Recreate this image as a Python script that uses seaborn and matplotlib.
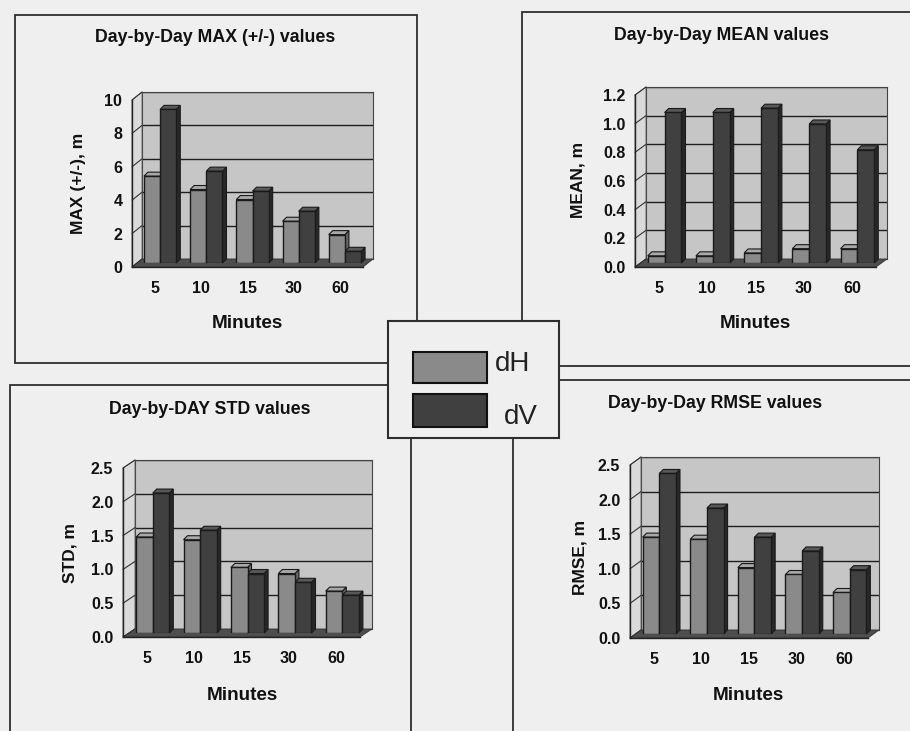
import matplotlib
matplotlib.use("Agg")
import matplotlib.pyplot as plt
import seaborn as sns
import pandas as pd
from matplotlib.patches import Rectangle, Polygon
from matplotlib.lines import Line2D

# ---------------- data ----------------
minutes = ["5", "10", "15", "30", "60"]
series = ["dH", "dV"]
max_dH = [5.2, 4.4, 3.8, 2.5, 1.7]
max_dV = [9.2, 5.5, 4.3, 3.1, 0.7]
mean_dH = [0.05, 0.05, 0.07, 0.10, 0.10]
mean_dV = [1.05, 1.05, 1.08, 0.97, 0.79]
std_dH = [1.42, 1.38, 0.97, 0.88, 0.62]
std_dV = [2.07, 1.52, 0.88, 0.75, 0.56]
rmse_dH = [1.40, 1.37, 0.96, 0.86, 0.60]
rmse_dV = [2.32, 1.82, 1.40, 1.20, 0.93]

# ---------------- style ----------------
W, H = 910, 731
sns.set_theme(style="white")
FAM = ["Liberation Sans", "DejaVu Sans"]
plt.rcParams["font.family"] = FAM

BG = "#efefef"
WALL = "#c6c6c6"
SIDE = "#dadada"
FLOOR = "#4e4e4e"
C_DH = "#8a8a8a"
C_DV = "#404040"
TOP = {C_DH: "#a8a8a8", C_DV: "#585858"}
SIDEC = {C_DH: "#666666", C_DV: "#282828"}
EDGE = "#1a1a1a"
TXT = "#111111"

fig = plt.figure(figsize=(W / 100, H / 100), dpi=100)
fig.patch.set_facecolor(BG)


def fx(x):
    return x / W


def fy(y):
    return 1 - y / H


def frect(l, t, r, b):
    return [fx(l), fy(b), (r - l) / W, (b - t) / H]


def box(l, t, r, b, lw=1.3, fc=None, z=-5):
    fig.add_artist(Rectangle((fx(l), fy(b)), (r - l) / W, (b - t) / H,
                             transform=fig.transFigure,
                             facecolor=fc if fc else "none",
                             edgecolor="#2e2e2e", lw=lw, zorder=z))


def fpoly(pts, fc, ec="none", lw=0.8, z=-2):
    fig.add_artist(Polygon([(fx(x), fy(y)) for x, y in pts], closed=True,
                           transform=fig.transFigure, facecolor=fc,
                           edgecolor=ec, lw=lw, zorder=z))


def fline(x0, y0, x1, y1, lw=0.9, c="#222222", z=-1.5):
    fig.add_artist(Line2D([fx(x0), fx(x1)], [fy(y0), fy(y1)],
                          transform=fig.transFigure, color=c, lw=lw, zorder=z))


# outer chart boxes
box(15, 15, 417, 363)
box(522, 12, 920, 366)
box(10, 385, 411, 740)
box(513, 380, 920, 740)


def panel(front, depth, dh, dv, ylim, yticks, fmt, ylabel, title,
          title_xy, ylabel_xy, xlabel_xy):
    l, t, r, b = front
    dx, dy = depth
    # back wall with gridlines
    wall = fig.add_axes(frect(l + dx, t - dy, r + dx, b - dy))
    wall.set_zorder(-3)
    wall.set_facecolor(WALL)
    wall.set_xlim(0, 1)
    wall.set_ylim(*ylim)
    for v in yticks[1:]:
        wall.axhline(v, color="#1e1e1e", lw=1.0)
    wall.set_xticks([])
    wall.set_yticks([])
    for s in wall.spines.values():
        s.set_color("#444444")
        s.set_linewidth(0.8)
    # side wall
    fpoly([(l, b), (l, t), (l + dx, t - dy), (l + dx, b - dy)], SIDE,
          ec="#555555", lw=0.6)
    # floor
    fpoly([(l, b), (r, b), (r + dx, b - dy), (l + dx, b - dy)], FLOOR,
          ec="#333333", lw=0.6)
    for v in yticks:
        yy = b - (v - ylim[0]) / (ylim[1] - ylim[0]) * (b - t)
        fline(l, yy, l + dx, yy - dy, lw=0.8, c="#333333")

    # bars, set half-way into the depth
    sx, sy = dx * 0.5, dy * 0.5
    bax = fig.add_axes(frect(l + sx, t - sy, r + sx, b - sy))
    bax.set_zorder(-1)
    bax.patch.set_alpha(0)
    df = pd.DataFrame({
        "Minutes": minutes * 2,
        "value": list(dh) + list(dv),
        "series": [series[0]] * len(minutes) + [series[1]] * len(minutes),
    })
    sns.barplot(data=df, x="Minutes", y="value", hue="series",
                order=minutes, hue_order=series, palette=[C_DH, C_DV],
                width=0.7, gap=0.0, edgecolor=EDGE, linewidth=1.0,
                saturation=1, legend=False, ax=bax, zorder=3)
    bax.set_ylim(*ylim)
    bax.set_xlim(-0.5, len(minutes) - 0.5)
    ux = len(minutes) / (r - l)
    uy = (ylim[1] - ylim[0]) / (b - t)
    ddx, ddy = 4 * ux, 4 * uy
    for p in list(bax.patches):
        x0, y0 = p.get_x(), p.get_y()
        w, h = p.get_width(), p.get_height()
        fc = matplotlib.colors.to_hex(p.get_facecolor())
        topc = TOP.get(fc, "#999999")
        sidec = SIDEC.get(fc, "#333333")
        bax.add_patch(Polygon([(x0, y0 + h), (x0 + w, y0 + h),
                               (x0 + w + ddx, y0 + h + ddy),
                               (x0 + ddx, y0 + h + ddy)], closed=True,
                              facecolor=topc, edgecolor=EDGE, lw=0.8,
                              zorder=2.9, clip_on=False))
        bax.add_patch(Polygon([(x0 + w, y0), (x0 + w + ddx, y0 + ddy),
                               (x0 + w + ddx, y0 + h + ddy),
                               (x0 + w, y0 + h)], closed=True,
                              facecolor=sidec, edgecolor=EDGE, lw=0.8,
                              zorder=2.8, clip_on=False))
    bax.axis("off")

    # front axes: spines, ticks and tick labels
    ax = fig.add_axes(frect(l, t, r, b))
    ax.patch.set_alpha(0)
    ax.set_ylim(*ylim)
    ax.set_xlim(-0.5, len(minutes) - 0.5)
    for s in ["top", "right"]:
        ax.spines[s].set_visible(False)
    ax.spines["left"].set_color("#222222")
    ax.spines["bottom"].set_color("#222222")
    ax.spines["left"].set_linewidth(1.0)
    ax.spines["bottom"].set_linewidth(1.0)
    ax.set_yticks(yticks)
    ax.set_yticklabels([fmt.format(v) for v in yticks])
    ax.tick_params(axis="y", direction="out", length=4, width=1.0,
                   color="#222222", pad=3, labelsize=11.5, labelcolor=TXT)
    for lab in ax.get_yticklabels():
        lab.set_fontweight("bold")
    ax.set_xticks(range(len(minutes)))
    ax.set_xticklabels(minutes)
    ax.set_xticks([i - 0.5 for i in range(len(minutes) + 1)], minor=True)
    ax.tick_params(axis="x", which="major", length=0, pad=10, labelsize=11.5,
                   labelcolor=TXT)
    ax.tick_params(axis="x", which="minor", direction="out", length=4,
                   width=1.0, color="#222222")
    for lab in ax.get_xticklabels():
        lab.set_fontweight("bold")

    fig.text(fx(title_xy[0]), fy(title_xy[1]), title, ha="center",
             va="center", fontsize=12.8, fontweight="bold", color=TXT)
    fig.text(fx(ylabel_xy[0]), fy(ylabel_xy[1]), ylabel, ha="center",
             va="center", rotation=90, fontsize=12.5, fontweight="bold",
             color=TXT)
    fig.text(fx(xlabel_xy[0]), fy(xlabel_xy[1]), "Minutes", ha="center",
             va="center", fontsize=13.6, fontweight="bold", color=TXT)


panel((132, 100, 363, 267), (10, 8), max_dH, max_dV, (0, 10),
      [0, 2, 4, 6, 8, 10], "{:g}", "MAX (+/-), m",
      "Day-by-Day MAX (+/-) values", (215, 38), (78, 183), (247, 323))
panel((635, 95, 876, 267), (11, 8), mean_dH, mean_dV, (0, 1.2),
      [0, 0.2, 0.4, 0.6, 0.8, 1.0, 1.2], "{:.1f}", "MEAN, m",
      "Day-by-Day MEAN values", (722, 35), (578, 180), (755, 323))
panel((123, 468, 360, 637), (12, 8), std_dH, std_dV, (0, 2.5),
      [0, 0.5, 1.0, 1.5, 2.0, 2.5], "{:.1f}", "STD, m",
      "Day-by-DAY STD values", (210, 409), (70, 553), (242, 695))
panel((630, 465, 868, 638), (11, 8), rmse_dH, rmse_dV, (0, 2.5),
      [0, 0.5, 1.0, 1.5, 2.0, 2.5], "{:.1f}", "RMSE, m",
      "Day-by-Day RMSE values", (715, 403), (580, 557), (748, 695))

# shared legend box
box(388, 321, 559, 438, lw=1.5, fc=BG, z=5)
fig.add_artist(Rectangle((fx(413), fy(383)), (487 - 413) / W, (383 - 352) / H,
                         transform=fig.transFigure, facecolor=C_DH,
                         edgecolor="#111111", lw=1.5, zorder=6))
fig.add_artist(Rectangle((fx(413), fy(427)), (487 - 413) / W, (427 - 394) / H,
                         transform=fig.transFigure, facecolor=C_DV,
                         edgecolor="#111111", lw=1.5, zorder=6))
fig.text(fx(495), fy(364), series[0], ha="left", va="center", fontsize=20,
         color="#222222", zorder=7)
fig.text(fx(504), fy(417), series[1], ha="left", va="center", fontsize=20,
         color="#222222", zorder=7)

fig.savefig("out.png", dpi=100, facecolor=fig.get_facecolor())
